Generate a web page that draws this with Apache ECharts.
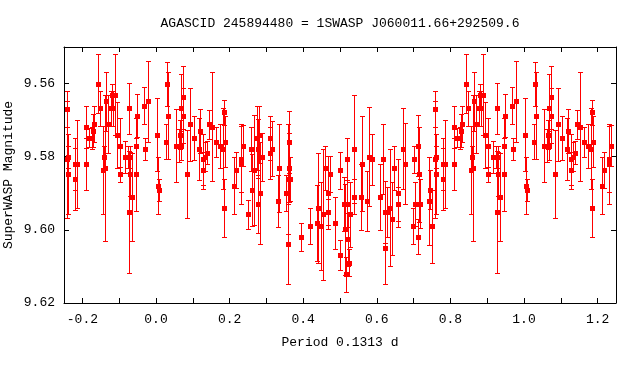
<!DOCTYPE html>
<html>
<head>
<meta charset="utf-8">
<script src="https://cdn.jsdelivr.net/npm/echarts@6/dist/echarts.min.js"></script>
<style>
html,body{margin:0;padding:0;background:#fff;}
#chart{width:640px;height:384px;}
</style>
</head>
<body>
<div id="chart"></div>
<script>
// Phase-folded photometry (phase 0..1); plot repeats the cycle from -0.25 to 1.25
const phase = [
0.7595,0.7577,0.762,0.762,0.7793,0.781,0.7865,0.8108,0.8108,0.8189,
0.827,0.8297,0.8324,0.8432,0.8486,0.8568,0.8595,0.8622,0.8649,0.8703,
0.8766,0.881,0.8838,0.8892,0.8928,0.9027,0.9027,0.9171,0.9243,0.927,
0.9279,0.9297,0.9306,0.9351,0.9459,0.9459,0.9486,0.9676,0.9703,0.9784,
0.0027,0.0045,0.0081,0.0261,0.0297,0.0324,0.0541,0.0613,0.0658,0.0667,
0.0685,0.073,0.073,0.0838,0.0919,0.1027,0.1162,0.1189,0.127,0.1288,
0.1333,0.1387,0.1441,0.1514,0.1622,0.1748,0.1811,0.1838,0.1838,0.1874,
0.2108,0.218,0.2306,0.2297,0.2351,0.2505,
0.2586,0.2604,0.2658,0.2748,0.2766,0.2766,0.2793,0.282,0.2892,0.309,
0.309,0.3162,0.3306,0.3333,0.3523,0.3577,0.3604,0.3622,0.3595,0.3631,
0.3946,0.4198,0.4396,0.4387,0.4477,0.4532,0.4604,0.4676,0.4685,0.4739,
0.4874,0.5009,0.5009,0.5108,0.5135,0.5162,0.5198,0.5198,0.5225,0.5243,
0.527,0.5387,0.5387,0.5577,0.5604,0.5739,0.5793,0.5874,0.609,0.6171,
0.6234,0.6234,0.6279,0.6351,0.6405,0.6468,0.6568,0.6568,0.6703,0.6766,
0.6973,0.7,0.7027,0.7117,0.7144,0.7117,0.718,0.7437,0.7419,0.749
];
const mag = [
9.5669,9.5807,9.5800,9.5848,9.5860,9.5819,9.5819,9.5718,9.5819,9.5748,
9.5748,9.5729,9.5711,9.5600,9.5668,9.5837,9.5800,9.5830,9.5649,9.5711,
9.5668,9.5630,9.5668,9.5630,9.5740,9.5770,9.5848,9.5800,9.5800,9.5668,
9.5951,9.5848,9.5800,9.5910,9.5770,9.5848,9.5688,9.5660,9.5778,9.5649,
9.5740,9.5879,9.5890,9.5759,9.5600,9.5688,9.5770,9.5770,9.5740,9.5668,
9.5770,9.5638,9.5688,9.5848,9.5711,9.5748,9.5778,9.5729,9.5837,9.5807,
9.5800,9.5789,9.5711,9.5718,9.5759,9.5770,9.5778,9.5679,9.5940,9.5759,
9.5879,9.5837,9.5819,9.5807,9.5770,9.5958,
9.5778,9.5891,9.5837,9.5748,9.5929,9.5778,9.5740,9.5899,9.5800,9.5748,
9.5789,9.5778,9.5921,9.5830,9.5899,9.6038,9.5759,9.5830,9.5860,9.5860,
9.6019,9.5990,9.5940,9.5981,9.5990,9.5958,9.5830,9.5899,9.5951,9.5848,
9.5981,9.5837,9.6068,9.5929,9.5999,9.6121,9.5807,9.5929,9.6026,9.6090,
9.5958,9.5778,9.5910,9.5910,9.5819,9.5921,9.5800,9.5807,9.5910,9.5807,
9.6049,9.5951,9.5951,9.5940,9.5970,9.5830,9.5899,9.5929,9.5778,9.5819,
9.5990,9.5807,9.5929,9.5770,9.5848,9.6019,9.5929,9.5890,9.5921,9.5990
];
const err = [
0.0049,0.0160,0.0030,0.0109,0.0085,0.0071,0.0120,0.0058,0.0071,0.0026,
0.0030,0.0045,0.0049,0.0080,0.0049,0.0120,0.0030,0.0200,0.0080,0.0080,
0.0049,0.0030,0.0049,0.0110,0.0090,0.0075,0.0020,0.0044,0.0030,0.0070,
0.0166,0.0060,0.0030,0.0120,0.0075,0.0100,0.0059,0.0051,0.0030,0.0110,
0.0100,0.0079,0.0030,0.0048,0.0060,0.0119,0.0100,0.0045,0.0040,0.0095,
0.0040,0.0085,0.0075,0.0120,0.0100,0.0060,0.0085,0.0060,0.0050,0.0070,
0.0040,0.0031,0.0040,0.0149,0.0041,0.0060,0.0110,0.0034,0.0079,0.0070,
0.0079,0.0049,0.0109,0.0090,0.0056,0.0040,
0.0060,0.0098,0.0150,0.0087,0.0079,0.0080,0.0078,0.0140,0.0066,0.0060,
0.0071,0.0075,0.0071,0.0120,0.0050,0.0110,0.0085,0.0095,0.0150,0.0060,
0.0039,0.0049,0.0150,0.0105,0.0120,0.0180,0.0060,0.0100,0.0036,0.0049,
0.0071,0.0050,0.0041,0.0074,0.0125,0.0048,0.0057,0.0064,0.0073,0.0037,
0.0088,0.0148,0.0048,0.0090,0.0130,0.0081,0.0135,0.0069,0.0090,0.0096,
0.0100,0.0084,0.0068,0.0160,0.0100,0.0060,0.0093,0.0046,0.0110,0.0110,
0.0049,0.0037,0.0060,0.0083,0.0130,0.0048,0.0067,0.0053,0.0120,0.0100
];
const xTicks = [-0.2,-0.1,0,0.1,0.2,0.3,0.4,0.5,0.6,0.7,0.8,0.9,1.0,1.1,1.2];
const xLabels = [-0.2,0,0.2,0.4,0.6,0.8,1.0,1.2];
const yTicks = [9.56,9.58,9.60,9.62];

const titleText = 'AGASCID 245894480 = 1SWASP J060011.66+292509.6';
const xName = 'Period 0.1313 d';
const yName = 'SuperWASP Magnitude';

const pts = [];
for (let i = 0; i < phase.length; i++) {
  pts.push([phase[i], mag[i], err[i]]);
  if (phase[i] < 0.25) pts.push([phase[i] + 1, mag[i], err[i]]);
  if (phase[i] >= 0.75) pts.push([phase[i] - 1, mag[i], err[i]]);
}

const FONT = 'Liberation Mono';
const FONTCSS = '13px "Liberation Mono"';
const RED = '#ff0000';
const chart = echarts.init(document.getElementById('chart'), null, {renderer: 'canvas'});

function axisCommon(showLabel, isX) {
  return {
    type: 'value',
    axisLine: {show: true, onZero: false, lineStyle: {color: '#000', width: 1}},
    axisTick: {show: true, inside: true, length: 5, lineStyle: {color: '#000', width: 1},
               customValues: isX ? xTicks : yTicks},
    axisLabel: {show: showLabel, customValues: isX ? xLabels : yTicks,
                formatter: v => isX ? v.toFixed(1) : v.toFixed(2),
                fontFamily: FONT, fontSize: 13, color: '#000', margin: isX ? 10 : 9},
    splitLine: {show: false}
  };
}

const option = {
  animation: false,
  backgroundColor: '#fff',
  grid: {left: 64, right: 24, top: 47, bottom: 81, containLabel: false},
  xAxis: [
    Object.assign(axisCommon(true, true), {position: 'bottom', min: -0.25, max: 1.25}),
    Object.assign(axisCommon(false, true), {position: 'top', min: -0.25, max: 1.25})
  ],
  yAxis: [
    Object.assign(axisCommon(true, false), {position: 'left', min: 9.55, max: 9.62, inverse: true}),
    Object.assign(axisCommon(false, false), {position: 'right', min: 9.55, max: 9.62, inverse: true})
  ],
  graphic: [
    {type: 'text', x: 340, y: 24, style: {text: titleText, font: FONTCSS, fill: '#000', textAlign: 'center', textVerticalAlign: 'middle'}},
    {type: 'text', x: 340, y: 343, style: {text: xName, font: FONTCSS, fill: '#000', textAlign: 'center', textVerticalAlign: 'middle'}},
    {type: 'text', x: 9, y: 175, rotation: Math.PI / 2, style: {text: yName, font: FONTCSS, fill: '#000', textAlign: 'center', textVerticalAlign: 'middle'}}
  ],
  series: [
    {
      type: 'custom',
      xAxisIndex: 0, yAxisIndex: 0,
      data: pts,
      encode: {x: 0, y: 1},
      renderItem: function (params, api) {
        const x = api.value(0), y = api.value(1), e = api.value(2);
        const a = api.coord([x, y - e]);
        const b = api.coord([x, y + e]);
        const px = Math.round(a[0]) + 0.5;
        const y1 = Math.round(a[1]) + 0.5, y2 = Math.round(b[1]) + 0.5;
        const w = 2.5;
        const st = {stroke: RED, lineWidth: 1};
        return {
          type: 'group',
          children: [
            {type: 'line', shape: {x1: px, y1: y1, x2: px, y2: y2}, style: st},
            {type: 'line', shape: {x1: px - w, y1: y1, x2: px + w, y2: y1}, style: st},
            {type: 'line', shape: {x1: px - w, y1: y2, x2: px + w, y2: y2}, style: st}
          ]
        };
      },
      silent: true,
      z: 2
    },
    {
      type: 'custom',
      xAxisIndex: 0, yAxisIndex: 0,
      data: pts.map(p => [p[0], p[1]]),
      encode: {x: 0, y: 1},
      renderItem: function (params, api) {
        const c = api.coord([api.value(0), api.value(1)]);
        const cx = Math.round(c[0]), cy = Math.round(c[1]);
        return {type: 'rect', shape: {x: cx - 2, y: cy - 2, width: 5, height: 5},
                style: {fill: RED}};
      },
      silent: true,
      z: 3
    }
  ]
};
chart.setOption(option);
</script>
</body>
</html>
